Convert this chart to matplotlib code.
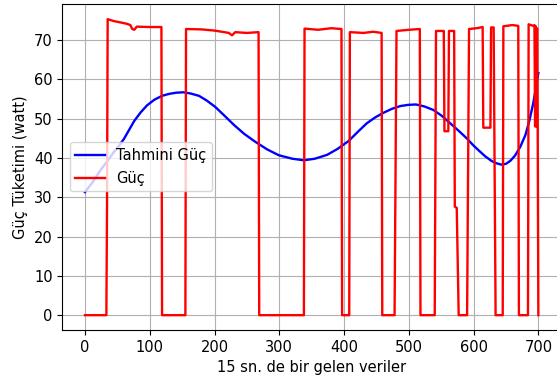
import matplotlib
matplotlib.use("Agg")
import matplotlib.pyplot as plt

plt.rcParams["font.size"] = 10.5

# red "Güç" trace: vertices (sample index, watt)
guc_x = [0, 33, 34, 35, 45, 60, 65, 70, 73, 76, 80, 100, 118,
         119, 155,
         156, 180, 200, 215, 222, 227, 232, 250, 268,
         269, 338,
         339, 360, 380, 396,
         397, 408,
         409, 430, 445, 458,
         459, 478,
         481, 500, 517,
         518, 540,
         542, 554, 555, 561, 562, 570, 571, 574, 577, 590,
         593, 605, 614, 615, 626, 627, 631,
         634, 645,
         646, 660, 669,
         670, 684,
         685, 692, 694, 695, 696, 697, 698, 699, 700]
guc_y = [0, 0, 27.5, 75.3, 74.8, 74.3, 74.1, 73.8, 72.8, 72.6, 73.4, 73.3, 73.3,
         0, 0,
         72.8, 72.7, 72.4, 72.0, 71.8, 71.2, 72.0, 71.8, 72.0,
         0, 0,
         72.9, 72.6, 73.0, 72.8,
         0, 0,
         72.0, 71.8, 72.1, 71.8,
         0, 0,
         72.3, 72.6, 72.8,
         0, 0,
         72.3, 72.3, 46.8, 46.8, 72.3, 72.3, 27.6, 27.3, 0, 0,
         72.8, 73.0, 73.3, 47.7, 47.7, 73.2, 73.2,
         0, 0,
         73.5, 73.8, 73.6,
         0, 0,
         74.0, 73.6, 73.8, 48.0, 73.5, 48.0, 73.0, 48.0, 0]

# blue "Tahmini Güç" fit
tahmin_x = [0, 12, 24, 35, 45, 53, 60, 68, 76, 86, 96, 107, 119, 130, 141, 152,
            163, 176, 188, 201, 215, 230, 246, 263, 281, 299, 320, 338, 355,
            374, 390, 407, 421, 435, 448, 461, 474, 487, 499, 511, 524, 538,
            551, 564, 577, 590, 599, 608, 618, 628, 636, 643, 650, 657, 664,
            672, 680, 686, 692, 696, 700]
tahmin_y = [31.3, 33.9, 36.9, 39.3, 41.6, 43.2, 44.8, 47.1, 49.4, 51.6, 53.4,
            54.8, 55.8, 56.3, 56.6, 56.7, 56.4, 55.8, 54.6, 53.0, 50.8, 48.4,
            46.1, 44.1, 42.2, 40.7, 39.8, 39.4, 39.8, 40.8, 42.3, 44.3, 46.6,
            48.8, 50.3, 51.5, 52.5, 53.2, 53.5, 53.6, 53.1, 52.2, 50.7, 48.8,
            46.9, 44.9, 43.3, 41.9, 40.4, 39.2, 38.6, 38.3, 38.5, 39.3, 40.6,
            42.8, 45.8, 49.4, 53.8, 57.6, 61.6]

xticks = [0, 100, 200, 300, 400, 500, 600, 700]
yticks = [0, 10, 20, 30, 40, 50, 60, 70]

fig = plt.figure(figsize=(5.57, 3.85), dpi=100)
ax = fig.add_axes([0.1119, 0.1429, 0.8953, 0.8468])

ax.plot(tahmin_x, tahmin_y, color="blue", lw=1.7, label="Tahmini Güç")
ax.plot(guc_x, guc_y, color="red", lw=1.7, label="Güç")

ax.set_xlim(-35, 735)
ax.set_ylim(-3.77, 79.17)
ax.set_xticks(xticks)
ax.set_yticks(yticks)
ax.grid(True)
ax.set_xlabel("15 sn. de bir gelen veriler")
ax.set_ylabel("Güç Tüketimi (watt)")
ax.legend(loc="center left")

fig.savefig("out.png", dpi=100)
